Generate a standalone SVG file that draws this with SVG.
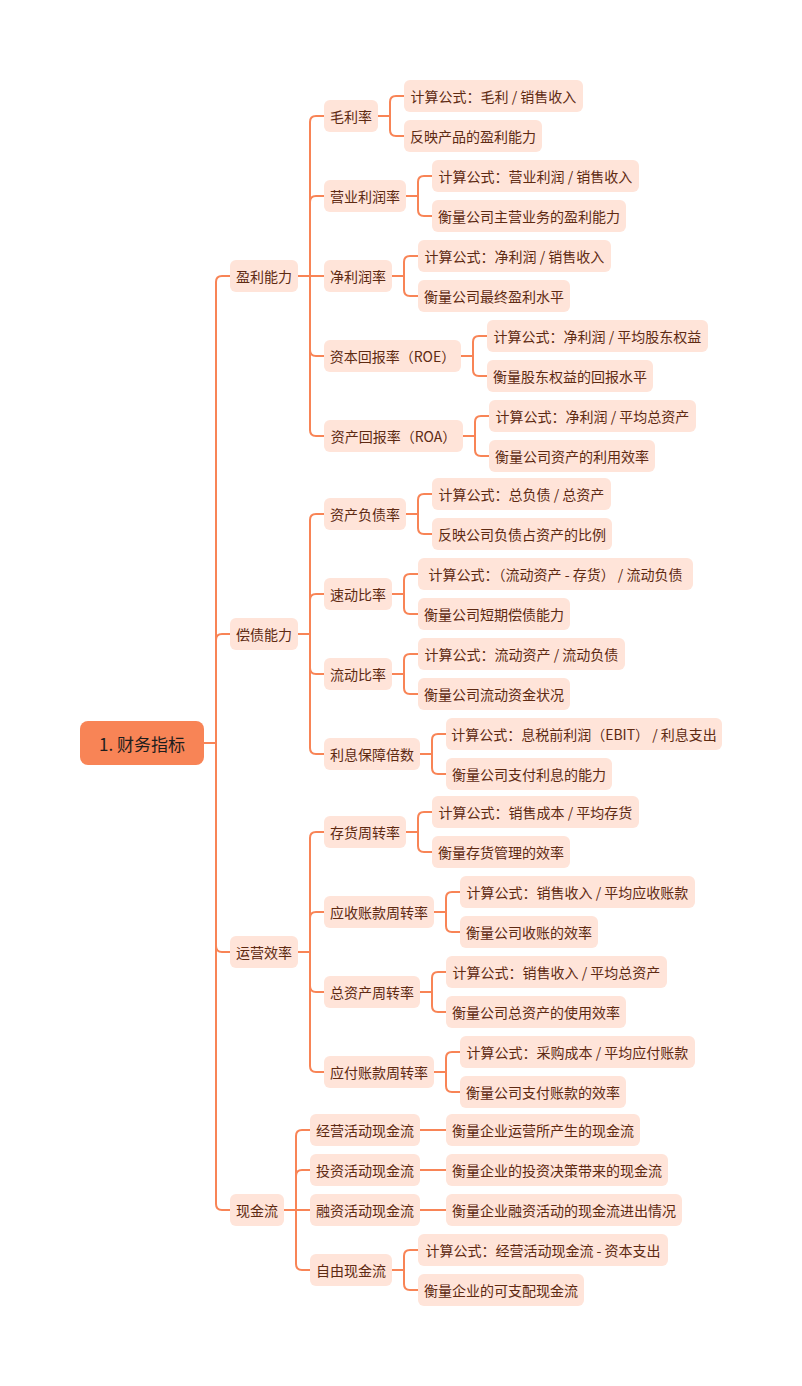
<svg xmlns="http://www.w3.org/2000/svg" width="802" height="1386" viewBox="0 0 802 1386">
<style>
text{font-family:"Noto Sans CJK SC","Noto Sans",sans-serif;font-size:14px;fill:#5E2A12;text-anchor:middle;dominant-baseline:central}
.n rect{fill:#FFE4D9}
.root rect{fill:#F88456}
.root text{font-size:17px;fill:#1E1E1E}
.c path{fill:none;stroke:#F88456;stroke-width:2;stroke-linecap:round}
</style>
<rect width="802" height="1386" fill="#FFFFFF"/>
<g class="c" id="connectors">
<path d="M204,743H216V282Q216,276 222,276H230"/>
<path d="M204,743H216V640Q216,634 222,634H230"/>
<path d="M204,743H216V946Q216,952 222,952H230"/>
<path d="M204,743H216V1204Q216,1210 222,1210H230"/>
<path d="M298,276H310V122Q310,116 316,116H324"/>
<path d="M298,276H310V202Q310,196 316,196H324"/>
<path d="M298,276H324"/>
<path d="M298,276H310V350Q310,356 316,356H324"/>
<path d="M298,276H310V430Q310,436 316,436H324"/>
<path d="M378,116H390V102Q390,96 396,96H404"/>
<path d="M378,116H390V130Q390,136 396,136H404"/>
<path d="M406,196H418V182Q418,176 424,176H432"/>
<path d="M406,196H418V210Q418,216 424,216H432"/>
<path d="M392,276H404V262Q404,256 410,256H418"/>
<path d="M392,276H404V290Q404,296 410,296H418"/>
<path d="M461,356H473V342Q473,336 479,336H487"/>
<path d="M461,356H473V370Q473,376 479,376H487"/>
<path d="M463,436H475V422Q475,416 481,416H489"/>
<path d="M463,436H475V450Q475,456 481,456H489"/>
<path d="M298,634H310V520Q310,514 316,514H324"/>
<path d="M298,634H310V600Q310,594 316,594H324"/>
<path d="M298,634H310V668Q310,674 316,674H324"/>
<path d="M298,634H310V748Q310,754 316,754H324"/>
<path d="M406,514H418V500Q418,494 424,494H432"/>
<path d="M406,514H418V528Q418,534 424,534H432"/>
<path d="M392,594H404V580Q404,574 410,574H418"/>
<path d="M392,594H404V608Q404,614 410,614H418"/>
<path d="M392,674H404V660Q404,654 410,654H418"/>
<path d="M392,674H404V688Q404,694 410,694H418"/>
<path d="M420,754H432V740Q432,734 438,734H446"/>
<path d="M420,754H432V768Q432,774 438,774H446"/>
<path d="M298,952H310V838Q310,832 316,832H324"/>
<path d="M298,952H310V918Q310,912 316,912H324"/>
<path d="M298,952H310V986Q310,992 316,992H324"/>
<path d="M298,952H310V1066Q310,1072 316,1072H324"/>
<path d="M406,832H418V818Q418,812 424,812H432"/>
<path d="M406,832H418V846Q418,852 424,852H432"/>
<path d="M434,912H446V898Q446,892 452,892H460"/>
<path d="M434,912H446V926Q446,932 452,932H460"/>
<path d="M420,992H432V978Q432,972 438,972H446"/>
<path d="M420,992H432V1006Q432,1012 438,1012H446"/>
<path d="M434,1072H446V1058Q446,1052 452,1052H460"/>
<path d="M434,1072H446V1086Q446,1092 452,1092H460"/>
<path d="M284,1210H296V1136Q296,1130 302,1130H310"/>
<path d="M284,1210H296V1176Q296,1170 302,1170H310"/>
<path d="M284,1210H310"/>
<path d="M284,1210H296V1264Q296,1270 302,1270H310"/>
<path d="M420,1130H446"/>
<path d="M420,1170H446"/>
<path d="M420,1210H446"/>
<path d="M392,1270H404V1256Q404,1250 410,1250H418"/>
<path d="M392,1270H404V1284Q404,1290 410,1290H418"/>
</g>
<g class="root" id="n-root"><rect x="80" y="721" width="124" height="44" rx="8"/><text x="142" y="743">1. 财务指标</text></g>
<g class="n" id="n-profit"><rect x="230" y="260" width="68" height="32" rx="6"/><text x="264" y="276">盈利能力</text></g>
<g class="n" id="n-solvency"><rect x="230" y="618" width="68" height="32" rx="6"/><text x="264" y="634">偿债能力</text></g>
<g class="n" id="n-operation"><rect x="230" y="936" width="68" height="32" rx="6"/><text x="264" y="952">运营效率</text></g>
<g class="n" id="n-cash"><rect x="230" y="1194" width="54" height="32" rx="6"/><text x="257" y="1210">现金流</text></g>
<g class="n" id="n-gm"><rect x="324" y="100" width="54" height="32" rx="6"/><text x="351" y="116">毛利率</text></g>
<g class="n" id="n-om"><rect x="324" y="180" width="82" height="32" rx="6"/><text x="365" y="196">营业利润率</text></g>
<g class="n" id="n-nm"><rect x="324" y="260" width="68" height="32" rx="6"/><text x="358" y="276">净利润率</text></g>
<g class="n" id="n-roe"><rect x="324" y="340" width="137" height="32" rx="6"/><text x="392.5" y="356">资本回报率（ROE）</text></g>
<g class="n" id="n-roa"><rect x="324" y="420" width="139" height="32" rx="6"/><text x="393.5" y="436">资产回报率（ROA）</text></g>
<g class="n" id="n-dar"><rect x="324" y="498" width="82" height="32" rx="6"/><text x="365" y="514">资产负债率</text></g>
<g class="n" id="n-qr"><rect x="324" y="578" width="68" height="32" rx="6"/><text x="358" y="594">速动比率</text></g>
<g class="n" id="n-cr"><rect x="324" y="658" width="68" height="32" rx="6"/><text x="358" y="674">流动比率</text></g>
<g class="n" id="n-icr"><rect x="324" y="738" width="96" height="32" rx="6"/><text x="372" y="754">利息保障倍数</text></g>
<g class="n" id="n-it"><rect x="324" y="816" width="82" height="32" rx="6"/><text x="365" y="832">存货周转率</text></g>
<g class="n" id="n-art"><rect x="324" y="896" width="110" height="32" rx="6"/><text x="379" y="912">应收账款周转率</text></g>
<g class="n" id="n-tat"><rect x="324" y="976" width="96" height="32" rx="6"/><text x="372" y="992">总资产周转率</text></g>
<g class="n" id="n-apt"><rect x="324" y="1056" width="110" height="32" rx="6"/><text x="379" y="1072">应付账款周转率</text></g>
<g class="n" id="n-ocf"><rect x="310" y="1114" width="110" height="32" rx="6"/><text x="365" y="1130">经营活动现金流</text></g>
<g class="n" id="n-icf"><rect x="310" y="1154" width="110" height="32" rx="6"/><text x="365" y="1170">投资活动现金流</text></g>
<g class="n" id="n-fcf"><rect x="310" y="1194" width="110" height="32" rx="6"/><text x="365" y="1210">融资活动现金流</text></g>
<g class="n" id="n-free"><rect x="310" y="1254" width="82" height="32" rx="6"/><text x="351" y="1270">自由现金流</text></g>
<g class="n" id="l1"><rect x="404" y="80" width="179" height="32" rx="6"/><text x="493.5" y="96">计算公式：毛利 / 销售收入</text></g>
<g class="n" id="l2"><rect x="404" y="120" width="138" height="32" rx="6"/><text x="473" y="136">反映产品的盈利能力</text></g>
<g class="n" id="l3"><rect x="432" y="160" width="207" height="32" rx="6"/><text x="535.5" y="176">计算公式：营业利润 / 销售收入</text></g>
<g class="n" id="l4"><rect x="432" y="200" width="194" height="32" rx="6"/><text x="529" y="216">衡量公司主营业务的盈利能力</text></g>
<g class="n" id="l5"><rect x="418" y="240" width="193" height="32" rx="6"/><text x="514.5" y="256">计算公式：净利润 / 销售收入</text></g>
<g class="n" id="l6"><rect x="418" y="280" width="152" height="32" rx="6"/><text x="494" y="296">衡量公司最终盈利水平</text></g>
<g class="n" id="l7"><rect x="487" y="320" width="221" height="32" rx="6"/><text x="597.5" y="336">计算公式：净利润 / 平均股东权益</text></g>
<g class="n" id="l8"><rect x="487" y="360" width="166" height="32" rx="6"/><text x="570" y="376">衡量股东权益的回报水平</text></g>
<g class="n" id="l9"><rect x="489" y="400" width="207" height="32" rx="6"/><text x="592.5" y="416">计算公式：净利润 / 平均总资产</text></g>
<g class="n" id="l10"><rect x="489" y="440" width="166" height="32" rx="6"/><text x="572" y="456">衡量公司资产的利用效率</text></g>
<g class="n" id="l11"><rect x="432" y="478" width="179" height="32" rx="6"/><text x="521.5" y="494">计算公式：总负债 / 总资产</text></g>
<g class="n" id="l12"><rect x="432" y="518" width="180" height="32" rx="6"/><text x="522" y="534">反映公司负债占资产的比例</text></g>
<g class="n" id="l13"><rect x="418" y="558" width="275" height="32" rx="6"/><text x="555.5" y="574">计算公式：（流动资产 - 存货） / 流动负债</text></g>
<g class="n" id="l14"><rect x="418" y="598" width="152" height="32" rx="6"/><text x="494" y="614">衡量公司短期偿债能力</text></g>
<g class="n" id="l15"><rect x="418" y="638" width="207" height="32" rx="6"/><text x="521.5" y="654">计算公式：流动资产 / 流动负债</text></g>
<g class="n" id="l16"><rect x="418" y="678" width="152" height="32" rx="6"/><text x="494" y="694">衡量公司流动资金状况</text></g>
<g class="n" id="l17"><rect x="446" y="718" width="276" height="32" rx="6"/><text x="584" y="734">计算公式：息税前利润（EBIT） / 利息支出</text></g>
<g class="n" id="l18"><rect x="446" y="758" width="166" height="32" rx="6"/><text x="529" y="774">衡量公司支付利息的能力</text></g>
<g class="n" id="l19"><rect x="432" y="796" width="207" height="32" rx="6"/><text x="535.5" y="812">计算公式：销售成本 / 平均存货</text></g>
<g class="n" id="l20"><rect x="432" y="836" width="138" height="32" rx="6"/><text x="501" y="852">衡量存货管理的效率</text></g>
<g class="n" id="l21"><rect x="460" y="876" width="235" height="32" rx="6"/><text x="577.5" y="892">计算公式：销售收入 / 平均应收账款</text></g>
<g class="n" id="l22"><rect x="460" y="916" width="138" height="32" rx="6"/><text x="529" y="932">衡量公司收账的效率</text></g>
<g class="n" id="l23"><rect x="446" y="956" width="221" height="32" rx="6"/><text x="556.5" y="972">计算公式：销售收入 / 平均总资产</text></g>
<g class="n" id="l24"><rect x="446" y="996" width="180" height="32" rx="6"/><text x="536" y="1012">衡量公司总资产的使用效率</text></g>
<g class="n" id="l25"><rect x="460" y="1036" width="235" height="32" rx="6"/><text x="577.5" y="1052">计算公式：采购成本 / 平均应付账款</text></g>
<g class="n" id="l26"><rect x="460" y="1076" width="166" height="32" rx="6"/><text x="543" y="1092">衡量公司支付账款的效率</text></g>
<g class="n" id="l27"><rect x="446" y="1114" width="194" height="32" rx="6"/><text x="543" y="1130">衡量企业运营所产生的现金流</text></g>
<g class="n" id="l28"><rect x="446" y="1154" width="222" height="32" rx="6"/><text x="557" y="1170">衡量企业的投资决策带来的现金流</text></g>
<g class="n" id="l29"><rect x="446" y="1194" width="236" height="32" rx="6"/><text x="564" y="1210">衡量企业融资活动的现金流进出情况</text></g>
<g class="n" id="l30"><rect x="418" y="1234" width="250" height="32" rx="6"/><text x="543" y="1250">计算公式：经营活动现金流 - 资本支出</text></g>
<g class="n" id="l31"><rect x="418" y="1274" width="166" height="32" rx="6"/><text x="501" y="1290">衡量企业的可支配现金流</text></g>
</svg>
